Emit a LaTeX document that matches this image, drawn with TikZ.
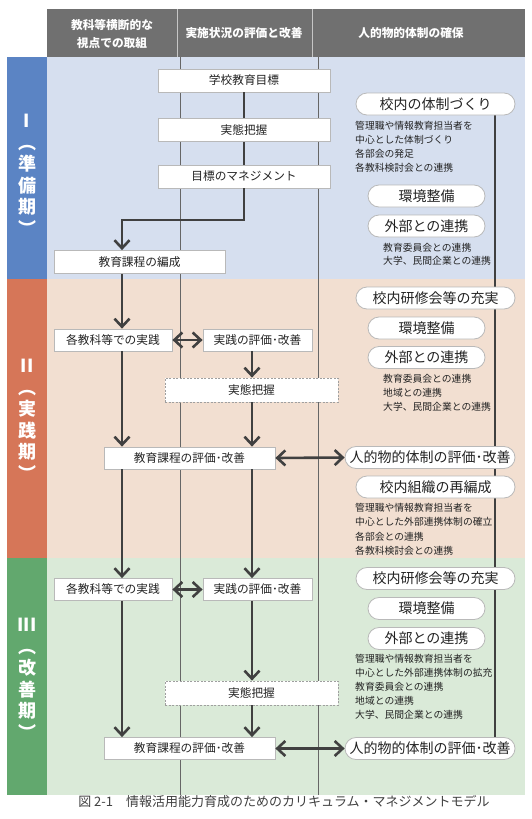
\documentclass[tikz,border=0pt]{standalone}
\usepackage{fontspec}
\setmainfont{Noto Sans CJK JP}
\usetikzlibrary{arrows.meta,shapes.misc,positioning,backgrounds,calc}
\definecolor{headgray}{RGB}{112,112,112}
\definecolor{phaseblue}{RGB}{91,132,196}
\definecolor{bgblue}{RGB}{214,223,239}
\definecolor{phaseorange}{RGB}{214,118,88}
\definecolor{bgorange}{RGB}{242,223,209}
\definecolor{phasegreen}{RGB}{98,168,110}
\definecolor{bggreen}{RGB}{218,234,216}
\definecolor{flowgray}{RGB}{64,64,64}
\definecolor{textgray}{RGB}{35,35,35}

\begin{document}
\begin{tikzpicture}[x=1pt, y=-1pt,
  every node/.style={text=textgray, inner sep=0pt},
  box/.style={rectangle, draw=gray!55, fill=white, line width=0.8pt,
    minimum height=23pt, font=\fontsize{11.7}{13}\selectfont},
  dashbox/.style={box, draw=gray!75, dash pattern=on 2pt off 1.5pt},
  pill/.style={rounded rectangle, draw=gray!55, fill=white, line width=0.8pt,
    minimum height=22pt, font=\fontsize{14}{16}\selectfont},
  note/.style={anchor=north west, align=left, font=\fontsize{9.8}{14}\selectfont},
  phase/.style={align=center, text=white, font=\fontsize{18}{21.5}\selectfont\bfseries},
  headtext/.style={align=center, text=white, font=\fontsize{11.7}{18}\selectfont\bfseries},
  link/.style={draw=flowgray, line width=2.6pt},
  flow/.style={link, -{Straight Barb[length=8pt,width=15pt]}},
  twoway/.style={link, {Straight Barb[length=8pt,width=15pt]}-{Straight Barb[length=8pt,width=15pt]}},
  colline/.style={draw=gray!80!black, line width=0.6pt}
]
  \useasboundingbox (0,0) rectangle (532,819);

  \begin{scope}[on background layer]
    \fill[headgray] (47,9) rectangle (525,57);
    \fill[phaseblue] (7,57) rectangle (47,279);
    \fill[bgblue] (47,57) rectangle (525,279);
    \fill[phaseorange] (7,279) rectangle (47,558);
    \fill[bgorange] (47,279) rectangle (525,558);
    \fill[phasegreen] (7,558) rectangle (47,795);
    \fill[bggreen] (47,558) rectangle (525,795);
    \draw[gray!45, line width=0.6pt] (177,9) -- (177,57) (312,9) -- (312,57);
    \draw[colline] (180,57) -- (180,795) (318,57) -- (318,795);
  \end{scope}

  \coordinate (xa) at (122,0);
  \coordinate (xb) at (252,0);
  \coordinate (xr) at (495,0);
  \coordinate (bend) at (122,220);

  \node[headtext] (h1) at (112,34) {教科等横断的な\\視点での取組};
  \node[headtext] (h2) at (244,33) {実施状況の評価と改善};
  \node[headtext] (h3) at (411,33) {人的物的体制の確保};

  \node[phase] (p1) at (27,175) {I\\︵\\準\\備\\期\\︶};
  \node[phase] (p2) at (27,420) {II\\︵\\実\\践\\期\\︶};
  \node[phase] (p3) at (27,679) {III\\︵\\改\\善\\期\\︶};

  \node[box, minimum width=172pt] (goal) at (244,80.5) {学校教育目標};
  \node[box, minimum width=172pt] (survey1) at (244,130) {実態把握};
  \node[box, minimum width=172pt] (mgmt) at (244,176.5) {目標のマネジメント};
  \node[box, minimum width=171pt] (plan) at (139.5,262) {教育課程の編成};

  \node[pill, minimum width=159pt] (taisei) at (435.5,104) {校内の体制づくり};
  \node[note] (n1) at (355,121) {管理職や情報教育担当者を\\中心とした体制づくり\\各部会の発足\\各教科検討会との連携};
  \node[pill, minimum width=117pt] (env1) at (426.5,196) {環境整備};
  \node[pill, minimum width=117pt] (ext1) at (426.5,226) {外部との連携};
  \node[note, font=\fontsize{9.8}{13.5}\selectfont] (n2) at (383,243) {教育委員会との連携\\大学、民間企業との連携};

  \node[box, minimum width=118pt, minimum height=22pt] (prac2) at (113,340) {各教科等での実践};
  \node[box, minimum width=109pt, minimum height=22pt] (eval2) at (257.5,340) {実践の評価･改善};
  \node[dashbox, minimum width=173pt, minimum height=24pt] (survey2) at (251.5,390) {実態把握};
  \node[box, minimum width=171pt, minimum height=22pt] (cur2) at (189.5,458) {教育課程の評価･改善};

  \node[pill, minimum width=159pt] (train2) at (435.5,298) {校内研修会等の充実};
  \node[pill, minimum width=117pt] (env2) at (426.5,328) {環境整備};
  \node[pill, minimum width=117pt] (ext2) at (426.5,357.5) {外部との連携};
  \node[note] (n3) at (383,374) {教育委員会との連携\\地域との連携\\大学、民間企業との連携};
  \node[pill, minimum width=170pt] (hr2) at (430,457.5) {人的物的体制の評価･改善};
  \node[pill, minimum width=159pt] (reorg) at (435.5,487) {校内組織の再編成};
  \node[note, font=\fontsize{9.8}{14.5}\selectfont] (n4) at (355,503) {管理職や情報教育担当者を\\中心とした外部連携体制の確立\\各部会との連携\\各教科検討会との連携};

  \node[box, minimum width=118pt, minimum height=22pt] (prac3) at (113,589.5) {各教科等での実践};
  \node[box, minimum width=109pt, minimum height=22pt] (eval3) at (257.5,589.5) {実践の評価･改善};
  \node[dashbox, minimum width=173pt, minimum height=24pt] (survey3) at (251.5,693) {実態把握};
  \node[box, minimum width=171pt, minimum height=22pt] (cur3) at (189.5,748.5) {教育課程の評価･改善};

  \node[pill, minimum width=159pt] (train3) at (435.5,578.5) {校内研修会等の充実};
  \node[pill, minimum width=117pt] (env3) at (426.5,608.5) {環境整備};
  \node[pill, minimum width=117pt] (ext3) at (426.5,638.5) {外部との連携};
  \node[note] (n5) at (355,654) {管理職や情報教育担当者を\\中心とした外部連携体制の拡充\\教育委員会との連携\\地域との連携\\大学、民間企業との連携};
  \node[pill, minimum width=170pt] (hr3) at (430,748.5) {人的物的体制の評価･改善};

  \node[font=\fontsize{13}{15}\selectfont, text=black!75] (cap) at (284,802)
      {図 2-1　情報活用能力育成のためのカリキュラム・マネジメントモデル};

  \begin{scope}[on background layer]
    \draw[link] (taisei.south -| xr) -- (hr3.north -| xr);
  \end{scope}

  \draw[link] (goal.south) -- (survey1.north);
  \draw[link] (survey1.south) -- (mgmt.north);
  \draw[flow] (mgmt.south) |- (bend) -- (bend |- plan.north);

  \draw[flow] (plan.south -| xa) -- (prac2.north -| xa);
  \draw[twoway] (prac2.east) -- (eval2.west);
  \draw[flow] (eval2.south -| xb) -- (survey2.north -| xb);
  \draw[flow] (survey2.south -| xb) -- (cur2.north -| xb);
  \draw[flow] (prac2.south -| xa) -- (cur2.north -| xa);
  \draw[twoway] (cur2.east) -- (hr2.west);

  \draw[flow] (cur2.south -| xa) -- (prac3.north -| xa);
  \draw[flow] (cur2.south -| xb) -- (eval3.north -| xb);
  \draw[twoway] (prac3.east) -- (eval3.west);
  \draw[flow] (eval3.south -| xb) -- (survey3.north -| xb);
  \draw[flow] (survey3.south -| xb) -- (cur3.north -| xb);
  \draw[flow] (prac3.south -| xa) -- (cur3.north -| xa);
  \draw[twoway] (cur3.east) -- (hr3.west);
\end{tikzpicture}
\end{document}
